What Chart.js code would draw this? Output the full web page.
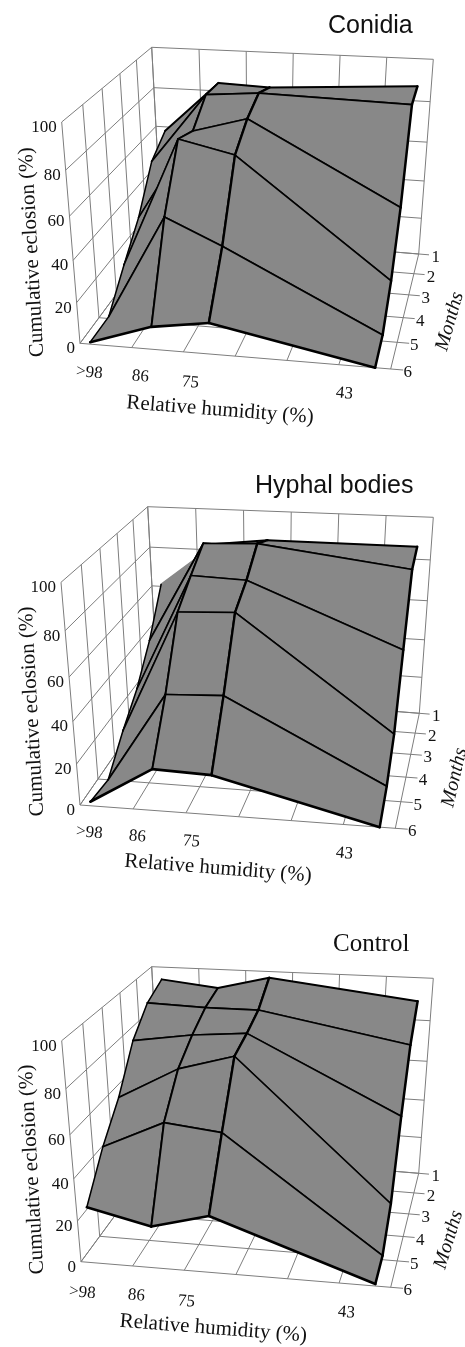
<!DOCTYPE html>
<html>
<head>
<meta charset="utf-8">
<style>html,body{margin:0;padding:0;background:#fff}canvas{display:block}</style>
<script src="https://cdn.jsdelivr.net/npm/chart.js@4"></script>
</head>
<body>
<canvas id="c" width="465" height="1347"></canvas>
<script>
// values, cumulative eclosion (%)
const humidity = [98, 86, 75, 43];
const humidityLabels = [">98", "86", "75", "43"];
const months = [1, 2, 3, 4, 5, 6];
const eclosionTicks = [0, 20, 40, 60, 80, 100];
// rows are months 1..6, columns are humidity
const conidia = [
    [58, 84, 83, 87],
    [50, 85, 87, 85],
    [30, 75, 82, 44],
    [16, 79, 73, 18],
    [1, 52, 40, 3],
    [1, 11, 15, 0]
];
const hyphalBodies = [
    [61, 83, 86, 86],
    [40, 90, 91, 82],
    [24, 82, 81, 52],
    [13, 73, 74, 21],
    [0, 44, 45, 7],
    [2, 20, 19, 0]
];
const control = [
    [94, 91, 97, 89],
    [89, 88, 88, 75],
    [78, 82, 84, 49],
    [59, 74, 81, 16],
    [45, 58, 55, 2],
    [27, 20, 27, 1]
];

const GREY = "#888888";
const GRID = "#7d7d7d";
const INK = "#111111";
const SERIF = '"Liberation Serif"';
const SANS = '"Liberation Sans"';
const TICK_FONT = "17px " + SERIF;
const DEPTH = 0.9; // perspective along the vertical

// floor and top of each box: front left, front right, back right, back left
const panels = [
    {
        values: conidia, title: "Conidia", titleFont: SANS, titleX: 328, titleY: 32.7,
        floor: [[80, 343.3], [390.7, 369], [418.7, 254], [161.7, 233]],
        top: [[61.7, 122], [406, 135.7], [433.3, 59.3], [151.7, 47.3]],
        rhPos: [[89, 371], [140, 375], [190, 381], [344, 392]],
        eclosionAt: [43.3, 356.7], relativeAt: [126, 408.3], monthsAt: [446.7, 351.7], monthsAngle: -74
    },
    {
        values: hyphalBodies, title: "Hyphal bodies", titleFont: SANS, titleX: 255, titleY: 492.7, hideBackLeft: true,
        floor: [[80, 805], [395.3, 828.3], [419.3, 713.3], [157.7, 692.7]],
        top: [[61, 582.3], [410.3, 594.3], [433.3, 517.3], [147.7, 506.7]],
        rhPos: [[89, 831], [137, 835], [191, 840], [344, 852]],
        eclosionAt: [43.3, 816], relativeAt: [124, 866.7], monthsAt: [453, 808], monthsAngle: -77
    },
    {
        values: control, title: "Control", titleFont: SERIF, titleX: 333, titleY: 950.7,
        floor: [[81, 1261.7], [390.7, 1287.3], [418.7, 1173.3], [161.7, 1152]],
        top: [[61.7, 1040.7], [406, 1054.7], [433.3, 978.3], [151.7, 966.7]],
        rhPos: [[82, 1291], [136, 1294], [186, 1300], [346, 1311]],
        eclosionAt: [43.3, 1274], relativeAt: [119.3, 1326.7], monthsAt: [445, 1270], monthsAngle: -73
    }
];

function homography(q) {
    const [p0, p1, p2, p3] = q;
    const dx1 = p1[0] - p2[0], dx2 = p3[0] - p2[0], sx = p0[0] - p1[0] + p2[0] - p3[0];
    const dy1 = p1[1] - p2[1], dy2 = p3[1] - p2[1], sy = p0[1] - p1[1] + p2[1] - p3[1];
    const det = dx1 * dy2 - dx2 * dy1;
    const g = (sx * dy2 - dx2 * sy) / det, h = (dx1 * sy - sx * dy1) / det;
    const a = p1[0] - p0[0] + g * p1[0], b = p3[0] - p0[0] + h * p3[0];
    const d = p1[1] - p0[1] + g * p1[1], e = p3[1] - p0[1] + h * p3[1];
    return function (u, v) {
        const w = g * u + h * v + 1;
        return [(a * u + b * v + p0[0]) / w, (d * u + e * v + p0[1]) / w];
    };
}

// u runs along humidity, v along months, z is the height, all 0..1
function project(panel, u, v, z) {
    const a = homography(panel.floor)(u, v), b = homography(panel.top)(u, v);
    const zp = z * DEPTH / (1 - z + z * DEPTH);
    return { x: a[0] + (b[0] - a[0]) * zp, y: a[1] + (b[1] - a[1]) * zp };
}
const rhToU = rh => (100 - rh) / 60;
const monthToV = m => (6 - m) / 5;

function gridDataset(panel) {
    const pts = [];
    const seg = (a, b) => { pts.push(a, b, { x: NaN, y: NaN }); };
    const uTicks = [0, 1, 2, 3, 4, 5, 6].map(i => i / 6);
    const vTicks = months.map(monthToV);
    const zTicks = eclosionTicks.map(t => t / 100);
    uTicks.forEach(u => {
        seg(project(panel, u, 0, 0), project(panel, u, 1, 0));
        seg(project(panel, u, 1, 0), project(panel, u, 1, 1));
    });
    vTicks.forEach(v => {
        seg(project(panel, 0, v, 0), project(panel, 1.04, v, 0));
        seg(project(panel, 0, v, 0), project(panel, 0, v, 1));
    });
    zTicks.forEach(z => {
        seg(project(panel, 0, 0, z), project(panel, 0, 1, z));
        seg(project(panel, 0, 1, z), project(panel, 1, 1, z));
    });
    return {
        data: pts, showLine: true, borderColor: GRID, borderWidth: 1,
        pointRadius: 0, fill: false, clip: false
    };
}

const columnWidths = [1.5, 1.9, 2.3, 2.5];
const rowWidths = [2, 1.7, 1.6, 1.6, 1.7, 2.6];

// one filled patch and its outline: the segment option splits a line, so the fill needs its own dataset
function quadDatasets(panel, i, j) {
    const vals = panel.values;
    const corner = (r, c) => project(panel, rhToU(humidity[c]), monthToV(months[r]), vals[r][c] / 100);
    const pts = [corner(i, j), corner(i, j + 1), corner(i + 1, j + 1), corner(i + 1, j), corner(i, j)];
    // edges in order: row i, column j+1, row i+1, column j
    const widths = [rowWidths[i], columnWidths[j + 1], rowWidths[i + 1], columnWidths[j]];
    const hidden = panel.hideBackLeft && i === 0 && j === 0;
    return [{
        data: pts, showLine: true, fill: "shape", backgroundColor: GREY, borderColor: GREY,
        borderWidth: 0.5, pointRadius: 0, clip: false
    }, {
        data: pts, showLine: true, fill: false, borderColor: "#000",
        borderWidth: 1.6, borderJoinStyle: "round", borderCapStyle: "round",
        pointRadius: 0, clip: false,
        segment: {
            borderWidth: ctx => widths[ctx.p0DataIndex],
            borderColor: ctx => (hidden && ctx.p0DataIndex === 0) ? GREY : "#000"
        }
    }];
}

let datasets = [];
panels.forEach(panel => {
    datasets.push(gridDataset(panel));
    for (let i = 0; i < months.length - 1; i++)
        for (let j = 0; j < humidity.length - 1; j++)
            datasets.push(...quadDatasets(panel, i, j));
});
// chart.js paints the last dataset first
datasets = datasets.reverse();

function label(ctx, text, x, y, font, angle, align) {
    ctx.save();
    ctx.translate(x, y);
    ctx.rotate((angle || 0) * Math.PI / 180);
    ctx.font = font;
    ctx.fillStyle = INK;
    ctx.textAlign = align || "left";
    ctx.textBaseline = "alphabetic";
    ctx.fillText(text, 0, 0);
    ctx.restore();
}

const textPlugin = {
    id: "panelText",
    afterDatasetsDraw(chart) {
        const ctx = chart.ctx;
        panels.forEach(panel => {
            label(ctx, panel.title, panel.titleX, panel.titleY, "25px " + panel.titleFont);
            eclosionTicks.forEach(t => {
                const p = project(panel, 0, 0, t / 100);
                label(ctx, String(t), p.x - 5, p.y + 10, TICK_FONT, 0, "right");
            });
            months.forEach(m => {
                const p = project(panel, 1, monthToV(m), 0);
                label(ctx, String(m), p.x + 17, p.y + 8, TICK_FONT, 0, "center");
            });
            humidityLabels.forEach((t, i) => {
                const pos = panel.rhPos[i];
                label(ctx, t, pos[0], pos[1] + 6, TICK_FONT, 5, "center");
            });
            label(ctx, "Cumulative eclosion (%)", panel.eclosionAt[0], panel.eclosionAt[1], "21px " + SERIF, -93.2);
            label(ctx, "Relative humidity (%)", panel.relativeAt[0], panel.relativeAt[1], "21px " + SERIF, 4.5);
            label(ctx, "Months", panel.monthsAt[0], panel.monthsAt[1], "italic 20px " + SERIF, panel.monthsAngle);
        });
    }
};

new Chart(document.getElementById("c"), {
    type: "scatter",
    data: { datasets: datasets },
    plugins: [textPlugin],
    options: {
        responsive: false,
        animation: false,
        layout: { padding: 0 },
        events: [],
        scales: {
            x: { type: "linear", display: false, min: 0, max: 465 },
            y: { type: "linear", display: false, min: 0, max: 1347, reverse: true }
        },
        plugins: { legend: { display: false }, tooltip: { enabled: false } }
    }
});
</script>
</body>
</html>
